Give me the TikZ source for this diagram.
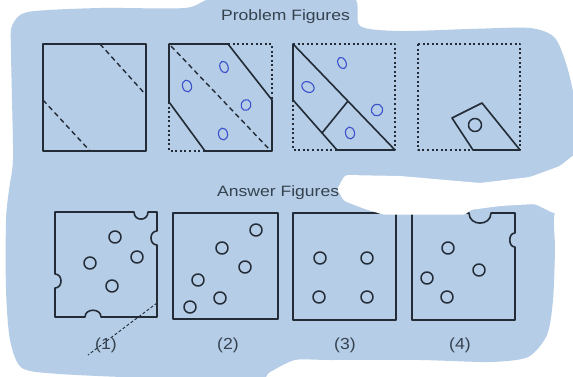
\documentclass[tikz,border=0pt]{standalone}
\usepackage{fontspec}
\setmainfont{Liberation Sans}
\definecolor{bg}{HTML}{B5CDE6}
\definecolor{ink}{HTML}{222B36}
\definecolor{txt}{HTML}{36424F}
\definecolor{pen}{HTML}{3A50CC}
\begin{document}
\begin{tikzpicture}[x=1pt,y=-1pt,line join=round,
  edge/.style={draw=ink,line width=1.6pt},
  dots/.style={draw=ink,line width=1.3pt,dash pattern=on 2pt off 2.6pt},
  fold/.style={draw=ink,line width=1.4pt,dash pattern=on 5pt off 3.5pt},
  hole/.style={draw=ink,line width=1.5pt},
  squig/.style={draw=pen,line width=1.1pt},
  strike/.style={draw=ink,line width=0.9pt,dash pattern=on 3pt off 2pt},
  lbl/.style={text=txt,font=\fontsize{16}{16}\selectfont,inner sep=0pt,xscale=1.1},
  ttl/.style={text=txt,font=\fontsize{15}{15}\selectfont,inner sep=0pt,xscale=1.17}]
\useasboundingbox (0,0) rectangle (573,377);
\fill[white] (0,0) rectangle (573,377);
% blue background blob
\fill[bg] plot[smooth cycle,tension=0.45] coordinates {
 (12,26) (28,12) (100,8) (185,8) (215,-2) (300,-4) (354,-2) (360,26) (400,31)
 (470,29) (530,28) (555,38) (568,70) (576,110) (576,150) (576,190) (555,212)
 (555,250) (553,300) (547,335) (528,357) (490,362) (420,360) (330,360)
 (295,360) (270,372) (255,380) (150,378) (60,374) (22,368) (10,340) (6,290)
 (6,220) (9,190) (13,160) (12,100) (11,50)};
% titles
\node[ttl,anchor=base] (ptitle) at (285.5,21) {Problem Figures};
\node[ttl,anchor=base west] (atitle) at (217,196) {Answer Figures};

% ---------- Problem figure 1
\draw[edge] (43,44) rectangle (146,151);
\draw[fold] (100,44) -- (146,95);
\draw[fold] (43,100) -- (90,151);

% ---------- Problem figure 2
\draw[edge] (228,44) -- (169,44) -- (169,102) -- (205,151) -- (272,151) -- (272,100) -- cycle;
\draw[dots] (228,44) -- (272,44) -- (272,100);
\draw[dots] (169,102) -- (169,151) -- (205,151);
\draw[fold] (171,46) -- (269,149);
\draw[squig,rotate around={20:(224,67)}] (224,67) ellipse (4 and 6);
\draw[squig,rotate around={15:(187,86)}] (187,86) ellipse (4.5 and 6);
\draw[squig,rotate around={-20:(246,105)}] (246,105) ellipse (5 and 5.5);
\draw[squig,rotate around={10:(223,134)}] (223,134) ellipse (4.5 and 6);

% ---------- Problem figure 3
\draw[edge] (293,100) -- (293,44) -- (395,150) -- (337,150) -- cycle;
\draw[edge] (322,133) -- (348,101);
\draw[dots] (293,44) -- (395,44) -- (395,150);
\draw[dots] (293,100) -- (293,150) -- (337,150);
\draw[squig,rotate around={25:(342,63)}] (342,63) ellipse (4 and 6);
\draw[squig,rotate around={-30:(308,87)}] (308,87) ellipse (6.5 and 5);
\draw[squig,rotate around={-25:(377,110)}] (377,110) ellipse (5.5 and 6);
\draw[squig,rotate around={10:(350,133)}] (350,133) ellipse (4.5 and 6);

% ---------- Problem figure 4
\draw[dots] (418,44) rectangle (520,150);
\draw[edge] (452,118) -- (482,103) -- (520,150) -- (473,150) -- cycle;
\draw[hole] (475,125) circle (6.5);

% ---------- Answer figure 1
\draw[edge] (55,212) -- (134,212) .. controls (134,221.5) and (148,221.5) .. (148,212)
  -- (157,212) -- (157,231) .. controls (149,231) and (149,245) .. (157,245)
  -- (157,317) -- (101,317) .. controls (101,308) and (85,308) .. (85,317)
  -- (55,317) -- (55,288) .. controls (63,288) and (63,274) .. (55,274) -- cycle;
\foreach \p in {(115,237),(137,257),(90,263),(112,286)} \draw[hole] \p circle (6);
\coordinate (s1) at (157,303);
\coordinate (s2) at (88,355);
\draw[strike] (s1) -- (s2);
\node[lbl] (n1) at (106,345) {(1)};

% ---------- Answer figure 2
\draw[edge] (173,213) rectangle (278,319);
\foreach \p in {(256,230),(222,248),(245,267),(198,280),(220,298),(190,307)} \draw[hole] \p circle (6);
\node[lbl] (n2) at (228,345) {(2)};

% ---------- Answer figure 3
\draw[edge] (293,213) rectangle (396,320);
\foreach \p in {(320,258),(367,258),(319,297),(367,297)} \draw[hole] \p circle (6);
\node[lbl] (n3) at (345,345) {(3)};

% ---------- Answer figure 4
\draw[edge] (412,213) -- (469,213) .. controls (469,226.5) and (491,226.5) .. (491,213)
  -- (515,213) -- (515,233) .. controls (508,233) and (508,247) .. (515,247)
  -- (515,320) -- (412,320) -- cycle;
\foreach \p in {(448,248),(479,270),(427,278),(447,297)} \draw[hole] \p circle (6);
\node[lbl] (n4) at (460,345) {(4)};

% white band over the middle right
\fill[white,rounded corners=3pt] (345,175) -- (400,176) -- (480,183) -- (530,177)
  -- (560,166) -- (580,150) -- (580,216) -- (553,213) -- (535,204) -- (500,206)
  -- (470,210) -- (466,214.6) -- (383,214.6) -- (365,209) -- (344,201)
  -- (337,189) -- cycle;
\end{tikzpicture}
\end{document}
